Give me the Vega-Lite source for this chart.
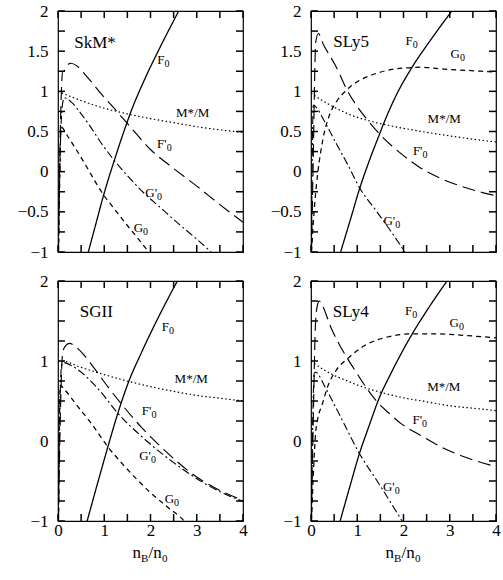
{
"$schema":"https://vega.github.io/schema/vega-lite/v6.json",
"padding":{"left":16,"top":1,"right":5,"bottom":5},
"background":"white",
"config":{
 "view":{"stroke":"black","strokeWidth":1.2},
 "axis":{"grid":false,"domain":false,"ticks":false,"labelColor":"black","labelFont":"Liberation Serif","labelFontSize":17,"labelFlush":false,"labelOverlap":false,"labelBound":false,"format":"~g"},
 "axisX":{"labelPadding":1.5},
 "axisY":{"labelPadding":10},
 "text":{"font":"Liberation Serif","color":"black"},
 "rule":{"color":"#000000","strokeWidth":1.5,"opacity":1}
},
"datasets":{
"xt":[{"v":0},{"v":0.5},{"v":1},{"v":1.5},{"v":2},{"v":2.5},{"v":3},{"v":3.5},{"v":4}],
"yt":[{"v":-1},{"v":-0.75},{"v":-0.5},{"v":-0.25},{"v":0},{"v":0.25},{"v":0.5},{"v":0.75},{"v":1},{"v":1.25},{"v":1.5},{"v":1.75},{"v":2}],
"curves":[
{"panel":"SkM*","series":"F0","x":0.655,"y":-1},{"panel":"SkM*","series":"F0","x":0.8,"y":-0.69},{"panel":"SkM*","series":"F0","x":0.987,"y":-0.29},{"panel":"SkM*","series":"F0","x":1.217,"y":0.14},{"panel":"SkM*","series":"F0","x":1.485,"y":0.6},{"panel":"SkM*","series":"F0","x":1.563,"y":0.725},{"panel":"SkM*","series":"F0","x":1.866,"y":1.14},{"panel":"SkM*","series":"F0","x":2.2,"y":1.54},{"panel":"SkM*","series":"F0","x":2.61,"y":2},
{"panel":"SkM*","series":"Fp0","x":0.01,"y":-1},{"panel":"SkM*","series":"Fp0","x":0.04,"y":0.2},{"panel":"SkM*","series":"Fp0","x":0.08,"y":1.1},{"panel":"SkM*","series":"Fp0","x":0.1,"y":1.25},{"panel":"SkM*","series":"Fp0","x":0.13,"y":1.25},{"panel":"SkM*","series":"Fp0","x":0.18,"y":1.31},{"panel":"SkM*","series":"Fp0","x":0.28,"y":1.35},{"panel":"SkM*","series":"Fp0","x":0.4,"y":1.32},{"panel":"SkM*","series":"Fp0","x":0.6,"y":1.2},{"panel":"SkM*","series":"Fp0","x":0.75,"y":1.1},{"panel":"SkM*","series":"Fp0","x":0.93,"y":0.97},{"panel":"SkM*","series":"Fp0","x":1.15,"y":0.83},{"panel":"SkM*","series":"Fp0","x":1.5,"y":0.6},{"panel":"SkM*","series":"Fp0","x":2.01,"y":0.27},{"panel":"SkM*","series":"Fp0","x":2.5,"y":0.04},{"panel":"SkM*","series":"Fp0","x":3,"y":-0.18},{"panel":"SkM*","series":"Fp0","x":3.5,"y":-0.41},{"panel":"SkM*","series":"Fp0","x":4,"y":-0.63},
{"panel":"SkM*","series":"Gp0","x":0.01,"y":-1},{"panel":"SkM*","series":"Gp0","x":0.05,"y":0.3},{"panel":"SkM*","series":"Gp0","x":0.1,"y":0.85},{"panel":"SkM*","series":"Gp0","x":0.137,"y":0.92},{"panel":"SkM*","series":"Gp0","x":0.3,"y":0.86},{"panel":"SkM*","series":"Gp0","x":0.5,"y":0.72},{"panel":"SkM*","series":"Gp0","x":0.7,"y":0.56},{"panel":"SkM*","series":"Gp0","x":0.93,"y":0.36},{"panel":"SkM*","series":"Gp0","x":1.217,"y":0.14},{"panel":"SkM*","series":"Gp0","x":1.5,"y":-0.05},{"panel":"SkM*","series":"Gp0","x":1.866,"y":-0.27},{"panel":"SkM*","series":"Gp0","x":2.2,"y":-0.44},{"panel":"SkM*","series":"Gp0","x":2.59,"y":-0.64},{"panel":"SkM*","series":"Gp0","x":3,"y":-0.84},{"panel":"SkM*","series":"Gp0","x":3.31,"y":-1},
{"panel":"SkM*","series":"G0","x":0.01,"y":-1},{"panel":"SkM*","series":"G0","x":0.04,"y":0},{"panel":"SkM*","series":"G0","x":0.065,"y":0.56},{"panel":"SkM*","series":"G0","x":0.2,"y":0.45},{"panel":"SkM*","series":"G0","x":0.4,"y":0.27},{"panel":"SkM*","series":"G0","x":0.6,"y":0.08},{"panel":"SkM*","series":"G0","x":0.8,"y":-0.12},{"panel":"SkM*","series":"G0","x":0.987,"y":-0.29},{"panel":"SkM*","series":"G0","x":1.146,"y":-0.41},{"panel":"SkM*","series":"G0","x":1.5,"y":-0.67},{"panel":"SkM*","series":"G0","x":1.9,"y":-0.955},{"panel":"SkM*","series":"G0","x":1.96,"y":-1},
{"panel":"SkM*","series":"M","x":0,"y":1},{"panel":"SkM*","series":"M","x":0.25,"y":0.94},{"panel":"SkM*","series":"M","x":0.5,"y":0.885},{"panel":"SkM*","series":"M","x":1,"y":0.79},{"panel":"SkM*","series":"M","x":1.5,"y":0.72},{"panel":"SkM*","series":"M","x":2,"y":0.66},{"panel":"SkM*","series":"M","x":2.5,"y":0.61},{"panel":"SkM*","series":"M","x":3,"y":0.56},{"panel":"SkM*","series":"M","x":3.5,"y":0.52},{"panel":"SkM*","series":"M","x":4,"y":0.49},

{"panel":"SLy5","series":"F0","x":0.64,"y":-1},{"panel":"SLy5","series":"F0","x":0.85,"y":-0.6},{"panel":"SLy5","series":"F0","x":1.046,"y":-0.22},{"panel":"SLy5","series":"F0","x":1.25,"y":0.12},{"panel":"SLy5","series":"F0","x":1.48,"y":0.465},{"panel":"SLy5","series":"F0","x":1.565,"y":0.59},{"panel":"SLy5","series":"F0","x":1.85,"y":0.96},{"panel":"SLy5","series":"F0","x":2.18,"y":1.295},{"panel":"SLy5","series":"F0","x":2.6,"y":1.65},{"panel":"SLy5","series":"F0","x":3.045,"y":2},
{"panel":"SLy5","series":"Fp0","x":0.01,"y":-1},{"panel":"SLy5","series":"Fp0","x":0.05,"y":0.2},{"panel":"SLy5","series":"Fp0","x":0.08,"y":1.2},{"panel":"SLy5","series":"Fp0","x":0.1,"y":1.6},{"panel":"SLy5","series":"Fp0","x":0.158,"y":1.72},{"panel":"SLy5","series":"Fp0","x":0.27,"y":1.58},{"panel":"SLy5","series":"Fp0","x":0.41,"y":1.44},{"panel":"SLy5","series":"Fp0","x":0.52,"y":1.33},{"panel":"SLy5","series":"Fp0","x":0.63,"y":1.2},{"panel":"SLy5","series":"Fp0","x":0.758,"y":1.04},{"panel":"SLy5","series":"Fp0","x":1,"y":0.81},{"panel":"SLy5","series":"Fp0","x":1.24,"y":0.63},{"panel":"SLy5","series":"Fp0","x":1.48,"y":0.47},{"panel":"SLy5","series":"Fp0","x":1.75,"y":0.32},{"panel":"SLy5","series":"Fp0","x":2,"y":0.2},{"panel":"SLy5","series":"Fp0","x":2.36,"y":0.05},{"panel":"SLy5","series":"Fp0","x":2.79,"y":-0.08},{"panel":"SLy5","series":"Fp0","x":3.4,"y":-0.21},{"panel":"SLy5","series":"Fp0","x":4,"y":-0.3},
{"panel":"SLy5","series":"Gp0","x":0.01,"y":-1},{"panel":"SLy5","series":"Gp0","x":0.03,"y":0.3},{"panel":"SLy5","series":"Gp0","x":0.05,"y":0.83},{"panel":"SLy5","series":"Gp0","x":0.1,"y":0.81},{"panel":"SLy5","series":"Gp0","x":0.27,"y":0.65},{"panel":"SLy5","series":"Gp0","x":0.5,"y":0.4},{"panel":"SLy5","series":"Gp0","x":0.81,"y":0.07},{"panel":"SLy5","series":"Gp0","x":1.05,"y":-0.2},{"panel":"SLy5","series":"Gp0","x":1.4,"y":-0.48},{"panel":"SLy5","series":"Gp0","x":1.7,"y":-0.72},{"panel":"SLy5","series":"Gp0","x":2.03,"y":-1},
{"panel":"SLy5","series":"G0","x":0.01,"y":-1},{"panel":"SLy5","series":"G0","x":0.08,"y":-0.4},{"panel":"SLy5","series":"G0","x":0.15,"y":0},{"panel":"SLy5","series":"G0","x":0.25,"y":0.38},{"panel":"SLy5","series":"G0","x":0.41,"y":0.72},{"panel":"SLy5","series":"G0","x":0.55,"y":0.87},{"panel":"SLy5","series":"G0","x":0.758,"y":1.01},{"panel":"SLy5","series":"G0","x":1,"y":1.12},{"panel":"SLy5","series":"G0","x":1.3,"y":1.2},{"panel":"SLy5","series":"G0","x":1.64,"y":1.26},{"panel":"SLy5","series":"G0","x":2,"y":1.29},{"panel":"SLy5","series":"G0","x":2.4,"y":1.3},{"panel":"SLy5","series":"G0","x":2.79,"y":1.28},{"panel":"SLy5","series":"G0","x":3.4,"y":1.26},{"panel":"SLy5","series":"G0","x":4,"y":1.24},
{"panel":"SLy5","series":"M","x":0,"y":0.98},{"panel":"SLy5","series":"M","x":0.2,"y":0.9},{"panel":"SLy5","series":"M","x":0.41,"y":0.83},{"panel":"SLy5","series":"M","x":0.8,"y":0.72},{"panel":"SLy5","series":"M","x":1.24,"y":0.635},{"panel":"SLy5","series":"M","x":1.565,"y":0.59},{"panel":"SLy5","series":"M","x":2,"y":0.54},{"panel":"SLy5","series":"M","x":2.5,"y":0.49},{"panel":"SLy5","series":"M","x":3,"y":0.445},{"panel":"SLy5","series":"M","x":3.5,"y":0.405},{"panel":"SLy5","series":"M","x":4,"y":0.37},

{"panel":"SGII","series":"F0","x":0.63,"y":-1},{"panel":"SGII","series":"F0","x":0.85,"y":-0.54},{"panel":"SGII","series":"F0","x":1.075,"y":-0.08},{"panel":"SGII","series":"F0","x":1.29,"y":0.34},{"panel":"SGII","series":"F0","x":1.527,"y":0.74},{"panel":"SGII","series":"F0","x":1.8,"y":1.1},{"panel":"SGII","series":"F0","x":2.2,"y":1.58},{"panel":"SGII","series":"F0","x":2.58,"y":2},
{"panel":"SGII","series":"Fp0","x":0.01,"y":-1},{"panel":"SGII","series":"Fp0","x":0.05,"y":0.3},{"panel":"SGII","series":"Fp0","x":0.1,"y":1.1},{"panel":"SGII","series":"Fp0","x":0.15,"y":1.18},{"panel":"SGII","series":"Fp0","x":0.25,"y":1.22},{"panel":"SGII","series":"Fp0","x":0.4,"y":1.17},{"panel":"SGII","series":"Fp0","x":0.54,"y":1.09},{"panel":"SGII","series":"Fp0","x":0.79,"y":0.905},{"panel":"SGII","series":"Fp0","x":1.075,"y":0.68},{"panel":"SGII","series":"Fp0","x":1.376,"y":0.46},{"panel":"SGII","series":"Fp0","x":1.79,"y":0.18},{"panel":"SGII","series":"Fp0","x":2.29,"y":-0.107},{"panel":"SGII","series":"Fp0","x":2.87,"y":-0.397},{"panel":"SGII","series":"Fp0","x":3.44,"y":-0.6},{"panel":"SGII","series":"Fp0","x":4,"y":-0.74},
{"panel":"SGII","series":"Gp0","x":0.01,"y":-1},{"panel":"SGII","series":"Gp0","x":0.04,"y":0.4},{"panel":"SGII","series":"Gp0","x":0.08,"y":0.95},{"panel":"SGII","series":"Gp0","x":0.12,"y":0.98},{"panel":"SGII","series":"Gp0","x":0.3,"y":0.94},{"panel":"SGII","series":"Gp0","x":0.6,"y":0.81},{"panel":"SGII","series":"Gp0","x":0.93,"y":0.61},{"panel":"SGII","series":"Gp0","x":1.29,"y":0.35},{"panel":"SGII","series":"Gp0","x":1.86,"y":0.03},{"panel":"SGII","series":"Gp0","x":2.5,"y":-0.27},{"panel":"SGII","series":"Gp0","x":3.2,"y":-0.54},{"panel":"SGII","series":"Gp0","x":3.6,"y":-0.66},{"panel":"SGII","series":"Gp0","x":4,"y":-0.755},
{"panel":"SGII","series":"G0","x":0.01,"y":-1},{"panel":"SGII","series":"G0","x":0.03,"y":0.2},{"panel":"SGII","series":"G0","x":0.05,"y":0.7},{"panel":"SGII","series":"G0","x":0.1,"y":0.67},{"panel":"SGII","series":"G0","x":0.43,"y":0.43},{"panel":"SGII","series":"G0","x":0.72,"y":0.22},{"panel":"SGII","series":"G0","x":1.075,"y":-0.07},{"panel":"SGII","series":"G0","x":1.43,"y":-0.31},{"panel":"SGII","series":"G0","x":2,"y":-0.645},{"panel":"SGII","series":"G0","x":2.4,"y":-0.84},{"panel":"SGII","series":"G0","x":2.65,"y":-0.955},{"panel":"SGII","series":"G0","x":2.73,"y":-1},
{"panel":"SGII","series":"M","x":0,"y":1},{"panel":"SGII","series":"M","x":0.07,"y":1},{"panel":"SGII","series":"M","x":0.5,"y":0.92},{"panel":"SGII","series":"M","x":1,"y":0.83},{"panel":"SGII","series":"M","x":1.527,"y":0.745},{"panel":"SGII","series":"M","x":2,"y":0.68},{"panel":"SGII","series":"M","x":2.5,"y":0.62},{"panel":"SGII","series":"M","x":3,"y":0.57},{"panel":"SGII","series":"M","x":3.5,"y":0.535},{"panel":"SGII","series":"M","x":4,"y":0.5},

{"panel":"SLy4","series":"F0","x":0.63,"y":-1},{"panel":"SLy4","series":"F0","x":0.85,"y":-0.55},{"panel":"SLy4","series":"F0","x":1.04,"y":-0.17},{"panel":"SLy4","series":"F0","x":1.25,"y":0.18},{"panel":"SLy4","series":"F0","x":1.47,"y":0.53},{"panel":"SLy4","series":"F0","x":1.75,"y":0.87},{"panel":"SLy4","series":"F0","x":2.19,"y":1.34},{"panel":"SLy4","series":"F0","x":2.55,"y":1.67},{"panel":"SLy4","series":"F0","x":2.94,"y":2},
{"panel":"SLy4","series":"Fp0","x":0.01,"y":-1},{"panel":"SLy4","series":"Fp0","x":0.05,"y":0.3},{"panel":"SLy4","series":"Fp0","x":0.1,"y":1.5},{"panel":"SLy4","series":"Fp0","x":0.14,"y":1.7},{"panel":"SLy4","series":"Fp0","x":0.18,"y":1.75},{"panel":"SLy4","series":"Fp0","x":0.25,"y":1.69},{"panel":"SLy4","series":"Fp0","x":0.43,"y":1.42},{"panel":"SLy4","series":"Fp0","x":0.6,"y":1.22},{"panel":"SLy4","series":"Fp0","x":0.79,"y":1.03},{"panel":"SLy4","series":"Fp0","x":1,"y":0.84},{"panel":"SLy4","series":"Fp0","x":1.18,"y":0.68},{"panel":"SLy4","series":"Fp0","x":1.43,"y":0.49},{"panel":"SLy4","series":"Fp0","x":1.7,"y":0.34},{"panel":"SLy4","series":"Fp0","x":1.94,"y":0.22},{"panel":"SLy4","series":"Fp0","x":2.37,"y":0.07},{"panel":"SLy4","series":"Fp0","x":2.87,"y":-0.09},{"panel":"SLy4","series":"Fp0","x":3.37,"y":-0.21},{"panel":"SLy4","series":"Fp0","x":4,"y":-0.32},
{"panel":"SLy4","series":"Gp0","x":0.01,"y":-1},{"panel":"SLy4","series":"Gp0","x":0.04,"y":0.3},{"panel":"SLy4","series":"Gp0","x":0.07,"y":0.85},{"panel":"SLy4","series":"Gp0","x":0.1,"y":0.86},{"panel":"SLy4","series":"Gp0","x":0.3,"y":0.68},{"panel":"SLy4","series":"Gp0","x":0.5,"y":0.46},{"panel":"SLy4","series":"Gp0","x":0.72,"y":0.21},{"panel":"SLy4","series":"Gp0","x":1.04,"y":-0.15},{"panel":"SLy4","series":"Gp0","x":1.43,"y":-0.5},{"panel":"SLy4","series":"Gp0","x":1.97,"y":-1},
{"panel":"SLy4","series":"G0","x":0.01,"y":-1},{"panel":"SLy4","series":"G0","x":0.06,"y":-0.3},{"panel":"SLy4","series":"G0","x":0.1,"y":0.1},{"panel":"SLy4","series":"G0","x":0.14,"y":0.26},{"panel":"SLy4","series":"G0","x":0.25,"y":0.47},{"panel":"SLy4","series":"G0","x":0.36,"y":0.68},{"panel":"SLy4","series":"G0","x":0.54,"y":0.88},{"panel":"SLy4","series":"G0","x":0.79,"y":1.03},{"panel":"SLy4","series":"G0","x":1.15,"y":1.19},{"panel":"SLy4","series":"G0","x":1.65,"y":1.3},{"panel":"SLy4","series":"G0","x":2.19,"y":1.34},{"panel":"SLy4","series":"G0","x":2.72,"y":1.34},{"panel":"SLy4","series":"G0","x":3.3,"y":1.32},{"panel":"SLy4","series":"G0","x":4,"y":1.29},
{"panel":"SLy4","series":"M","x":0,"y":1},{"panel":"SLy4","series":"M","x":0.25,"y":0.9},{"panel":"SLy4","series":"M","x":0.5,"y":0.82},{"panel":"SLy4","series":"M","x":0.75,"y":0.76},{"panel":"SLy4","series":"M","x":1,"y":0.7},{"panel":"SLy4","series":"M","x":1.5,"y":0.61},{"panel":"SLy4","series":"M","x":2,"y":0.54},{"panel":"SLy4","series":"M","x":2.5,"y":0.49},{"panel":"SLy4","series":"M","x":3,"y":0.44},{"panel":"SLy4","series":"M","x":3.5,"y":0.41},{"panel":"SLy4","series":"M","x":4,"y":0.38}
],
"labels":[
{"panel":"SkM*","main":"F","sub":"0","x":2.3,"y":1.39},{"panel":"SkM*","main":"M*/M","sub":"","x":3.27,"y":0.73},{"panel":"SkM*","main":"F'","sub":"0","x":2.35,"y":0.34},{"panel":"SkM*","main":"G'","sub":"0","x":2.14,"y":-0.26},{"panel":"SkM*","main":"G","sub":"0","x":1.84,"y":-0.7},
{"panel":"SLy5","main":"F","sub":"0","x":2.2,"y":1.63},{"panel":"SLy5","main":"G","sub":"0","x":3.22,"y":1.46},{"panel":"SLy5","main":"M*/M","sub":"","x":3.24,"y":0.65},{"panel":"SLy5","main":"F'","sub":"0","x":2.41,"y":0.26},{"panel":"SLy5","main":"G'","sub":"0","x":1.82,"y":-0.61},
{"panel":"SGII","main":"F","sub":"0","x":2.4,"y":1.42},{"panel":"SGII","main":"M*/M","sub":"","x":3.24,"y":0.78},{"panel":"SGII","main":"F'","sub":"0","x":2.02,"y":0.37},{"panel":"SGII","main":"G'","sub":"0","x":2.01,"y":-0.19},{"panel":"SGII","main":"G","sub":"0","x":2.51,"y":-0.73},
{"panel":"SLy4","main":"F","sub":"0","x":2.19,"y":1.63},{"panel":"SLy4","main":"G","sub":"0","x":3.2,"y":1.48},{"panel":"SLy4","main":"M*/M","sub":"","x":3.23,"y":0.68},{"panel":"SLy4","main":"F'","sub":"0","x":2.4,"y":0.26},{"panel":"SLy4","main":"G'","sub":"0","x":1.81,"y":-0.58}
]
},
"columns":2,
"spacing":{"row":10,"column":21},
"concat":[
{"width":185,"height":241,
 "layer":[
  {"data":{"name":"curves"},"transform":[{"filter":"datum.panel==='SkM*'"}],
   "mark":{"type":"line","clip":true,"interpolate":"monotone","color":"black"},
   "encoding":{
    "x":{"field":"x","type":"quantitative","scale":{"domain":[0,4],"nice":false,"zero":false},"axis":{"title":null,"values":[0,0.5,1,1.5,2,2.5,3,3.5,4],"labels":false}},
    "y":{"field":"y","type":"quantitative","scale":{"domain":[-1,2],"nice":false,"zero":false},"axis":{"title":null,"values":[-1,-0.75,-0.5,-0.25,0,0.25,0.5,0.75,1,1.25,1.5,1.75,2],"labelExpr":"datum.value % 0.5 === 0 ? datum.label : ''"}},
    "detail":{"field":"series"},
    "strokeDash":{"field":"series","type":"nominal","scale":{"domain":["F0","G0","M","Fp0","Gp0"],"range":[[1,0],[5,4],[1.5,2.5],[13,6],[8,3,2,3]]},"legend":null},
    "strokeWidth":{"field":"series","type":"nominal","scale":{"domain":["F0","G0","M","Fp0","Gp0"],"range":[1.3,1.1,1.2,1.1,1.1]},"legend":null}
   }},
  {"data":{"name":"xt"},"mark":{"type":"rule","strokeWidth":1.5,"color":"#000000"},"encoding":{"x":{"field":"v","type":"quantitative"},"y":{"datum":-1,"type":"quantitative"},"y2":{"datum":-0.913}}},
  {"data":{"name":"xt"},"mark":{"type":"rule","strokeWidth":1.5,"color":"#000000"},"encoding":{"x":{"field":"v","type":"quantitative"},"y":{"datum":2,"type":"quantitative"},"y2":{"datum":1.913}}},
  {"data":{"name":"yt"},"mark":{"type":"rule","strokeWidth":1.5,"color":"#000000"},"encoding":{"y":{"field":"v","type":"quantitative"},"x":{"datum":0,"type":"quantitative"},"x2":{"datum":0.151}}},
  {"data":{"name":"yt"},"mark":{"type":"rule","strokeWidth":1.5,"color":"#000000"},"encoding":{"y":{"field":"v","type":"quantitative"},"x":{"datum":4,"type":"quantitative"},"x2":{"datum":3.849}}},
  {"data":{"name":"labels"},"transform":[{"filter":"datum.panel==='SkM*'"}],
   "mark":{"type":"text","fontSize":13,"align":"right","baseline":"middle"},
   "encoding":{"x":{"field":"x","type":"quantitative"},"y":{"field":"y","type":"quantitative"},"text":{"field":"main"}}},
  {"data":{"name":"labels"},"transform":[{"filter":"datum.panel==='SkM*'"}],
   "mark":{"type":"text","fontSize":10,"align":"left","baseline":"middle","dy":4},
   "encoding":{"x":{"field":"x","type":"quantitative"},"y":{"field":"y","type":"quantitative"},"text":{"field":"sub"}}},
  {"data":{"values":[{}]},"mark":{"type":"text","text":"SkM*","fontSize":17,"align":"left","baseline":"middle"},
   "encoding":{"x":{"datum":0.35,"type":"quantitative"},"y":{"datum":1.6,"type":"quantitative"}}}
 ]
},
{"width":185,"height":241,
 "layer":[
  {"data":{"name":"curves"},"transform":[{"filter":"datum.panel==='SLy5'"}],
   "mark":{"type":"line","clip":true,"interpolate":"monotone","color":"black"},
   "encoding":{
    "x":{"field":"x","type":"quantitative","scale":{"domain":[0,4],"nice":false,"zero":false},"axis":{"title":null,"values":[0,0.5,1,1.5,2,2.5,3,3.5,4],"labels":false}},
    "y":{"field":"y","type":"quantitative","scale":{"domain":[-1,2],"nice":false,"zero":false},"axis":{"title":null,"values":[-1,-0.75,-0.5,-0.25,0,0.25,0.5,0.75,1,1.25,1.5,1.75,2],"labelExpr":"datum.value % 0.5 === 0 ? datum.label : ''"}},
    "detail":{"field":"series"},
    "strokeDash":{"field":"series","type":"nominal","scale":{"domain":["F0","G0","M","Fp0","Gp0"],"range":[[1,0],[5,4],[1.5,2.5],[13,6],[8,3,2,3]]},"legend":null},
    "strokeWidth":{"field":"series","type":"nominal","scale":{"domain":["F0","G0","M","Fp0","Gp0"],"range":[1.3,1.1,1.2,1.1,1.1]},"legend":null}
   }},
  {"data":{"name":"xt"},"mark":{"type":"rule","strokeWidth":1.5,"color":"#000000"},"encoding":{"x":{"field":"v","type":"quantitative"},"y":{"datum":-1,"type":"quantitative"},"y2":{"datum":-0.913}}},
  {"data":{"name":"xt"},"mark":{"type":"rule","strokeWidth":1.5,"color":"#000000"},"encoding":{"x":{"field":"v","type":"quantitative"},"y":{"datum":2,"type":"quantitative"},"y2":{"datum":1.913}}},
  {"data":{"name":"yt"},"mark":{"type":"rule","strokeWidth":1.5,"color":"#000000"},"encoding":{"y":{"field":"v","type":"quantitative"},"x":{"datum":0,"type":"quantitative"},"x2":{"datum":0.151}}},
  {"data":{"name":"yt"},"mark":{"type":"rule","strokeWidth":1.5,"color":"#000000"},"encoding":{"y":{"field":"v","type":"quantitative"},"x":{"datum":4,"type":"quantitative"},"x2":{"datum":3.849}}},
  {"data":{"name":"labels"},"transform":[{"filter":"datum.panel==='SLy5'"}],
   "mark":{"type":"text","fontSize":13,"align":"right","baseline":"middle"},
   "encoding":{"x":{"field":"x","type":"quantitative"},"y":{"field":"y","type":"quantitative"},"text":{"field":"main"}}},
  {"data":{"name":"labels"},"transform":[{"filter":"datum.panel==='SLy5'"}],
   "mark":{"type":"text","fontSize":10,"align":"left","baseline":"middle","dy":4},
   "encoding":{"x":{"field":"x","type":"quantitative"},"y":{"field":"y","type":"quantitative"},"text":{"field":"sub"}}},
  {"data":{"values":[{}]},"mark":{"type":"text","text":"SLy5","fontSize":17,"align":"left","baseline":"middle"},
   "encoding":{"x":{"datum":0.48,"type":"quantitative"},"y":{"datum":1.61,"type":"quantitative"}}}
 ]
},
{"width":185,"height":240,
 "layer":[
  {"data":{"name":"curves"},"transform":[{"filter":"datum.panel==='SGII'"}],
   "mark":{"type":"line","clip":true,"interpolate":"monotone","color":"black"},
   "encoding":{
    "x":{"field":"x","type":"quantitative","scale":{"domain":[0,4],"nice":false,"zero":false},"axis":{"title":null,"values":[0,0.5,1,1.5,2,2.5,3,3.5,4],"labelExpr":"datum.value % 1 === 0 ? datum.label : ''"}},
    "y":{"field":"y","type":"quantitative","scale":{"domain":[-1,2],"nice":false,"zero":false},"axis":{"title":null,"values":[-1,-0.75,-0.5,-0.25,0,0.25,0.5,0.75,1,1.25,1.5,1.75,2],"labelExpr":"datum.value % 0.5 === 0 ? datum.label : ''"}},
    "detail":{"field":"series"},
    "strokeDash":{"field":"series","type":"nominal","scale":{"domain":["F0","G0","M","Fp0","Gp0"],"range":[[1,0],[5,4],[1.5,2.5],[13,6],[8,3,2,3]]},"legend":null},
    "strokeWidth":{"field":"series","type":"nominal","scale":{"domain":["F0","G0","M","Fp0","Gp0"],"range":[1.3,1.1,1.2,1.1,1.1]},"legend":null}
   }},
  {"data":{"name":"xt"},"mark":{"type":"rule","strokeWidth":1.5,"color":"#000000"},"encoding":{"x":{"field":"v","type":"quantitative"},"y":{"datum":-1,"type":"quantitative"},"y2":{"datum":-0.913}}},
  {"data":{"name":"xt"},"mark":{"type":"rule","strokeWidth":1.5,"color":"#000000"},"encoding":{"x":{"field":"v","type":"quantitative"},"y":{"datum":2,"type":"quantitative"},"y2":{"datum":1.913}}},
  {"data":{"name":"yt"},"mark":{"type":"rule","strokeWidth":1.5,"color":"#000000"},"encoding":{"y":{"field":"v","type":"quantitative"},"x":{"datum":0,"type":"quantitative"},"x2":{"datum":0.151}}},
  {"data":{"name":"yt"},"mark":{"type":"rule","strokeWidth":1.5,"color":"#000000"},"encoding":{"y":{"field":"v","type":"quantitative"},"x":{"datum":4,"type":"quantitative"},"x2":{"datum":3.849}}},
  {"data":{"name":"labels"},"transform":[{"filter":"datum.panel==='SGII'"}],
   "mark":{"type":"text","fontSize":13,"align":"right","baseline":"middle"},
   "encoding":{"x":{"field":"x","type":"quantitative"},"y":{"field":"y","type":"quantitative"},"text":{"field":"main"}}},
  {"data":{"name":"labels"},"transform":[{"filter":"datum.panel==='SGII'"}],
   "mark":{"type":"text","fontSize":10,"align":"left","baseline":"middle","dy":4},
   "encoding":{"x":{"field":"x","type":"quantitative"},"y":{"field":"y","type":"quantitative"},"text":{"field":"sub"}}},
  {"data":{"values":[{}]},"mark":{"type":"text","text":"SGII","fontSize":17,"align":"left","baseline":"middle"},
   "encoding":{"x":{"datum":0.47,"type":"quantitative"},"y":{"datum":1.61,"type":"quantitative"}}},
  {"data":{"values":[{}]},"mark":{"type":"text","text":"n","fontSize":17,"align":"left","baseline":"alphabetic","dx":-18,"dy":37},
   "encoding":{"x":{"datum":2,"type":"quantitative"},"y":{"datum":-1,"type":"quantitative"}}},
  {"data":{"values":[{}]},"mark":{"type":"text","text":"B","fontSize":11,"align":"left","baseline":"alphabetic","dx":-9.5,"dy":41},
   "encoding":{"x":{"datum":2,"type":"quantitative"},"y":{"datum":-1,"type":"quantitative"}}},
  {"data":{"values":[{}]},"mark":{"type":"text","text":"/n","fontSize":17,"align":"left","baseline":"alphabetic","dx":-2,"dy":37},
   "encoding":{"x":{"datum":2,"type":"quantitative"},"y":{"datum":-1,"type":"quantitative"}}},
  {"data":{"values":[{}]},"mark":{"type":"text","text":"0","fontSize":11,"align":"left","baseline":"alphabetic","dx":11.5,"dy":41},
   "encoding":{"x":{"datum":2,"type":"quantitative"},"y":{"datum":-1,"type":"quantitative"}}}
 ]
},
{"width":185,"height":240,
 "layer":[
  {"data":{"name":"curves"},"transform":[{"filter":"datum.panel==='SLy4'"}],
   "mark":{"type":"line","clip":true,"interpolate":"monotone","color":"black"},
   "encoding":{
    "x":{"field":"x","type":"quantitative","scale":{"domain":[0,4],"nice":false,"zero":false},"axis":{"title":null,"values":[0,0.5,1,1.5,2,2.5,3,3.5,4],"labelExpr":"datum.value % 1 === 0 ? datum.label : ''"}},
    "y":{"field":"y","type":"quantitative","scale":{"domain":[-1,2],"nice":false,"zero":false},"axis":{"title":null,"values":[-1,-0.75,-0.5,-0.25,0,0.25,0.5,0.75,1,1.25,1.5,1.75,2],"labelExpr":"datum.value % 0.5 === 0 ? datum.label : ''"}},
    "detail":{"field":"series"},
    "strokeDash":{"field":"series","type":"nominal","scale":{"domain":["F0","G0","M","Fp0","Gp0"],"range":[[1,0],[5,4],[1.5,2.5],[13,6],[8,3,2,3]]},"legend":null},
    "strokeWidth":{"field":"series","type":"nominal","scale":{"domain":["F0","G0","M","Fp0","Gp0"],"range":[1.3,1.1,1.2,1.1,1.1]},"legend":null}
   }},
  {"data":{"name":"xt"},"mark":{"type":"rule","strokeWidth":1.5,"color":"#000000"},"encoding":{"x":{"field":"v","type":"quantitative"},"y":{"datum":-1,"type":"quantitative"},"y2":{"datum":-0.913}}},
  {"data":{"name":"xt"},"mark":{"type":"rule","strokeWidth":1.5,"color":"#000000"},"encoding":{"x":{"field":"v","type":"quantitative"},"y":{"datum":2,"type":"quantitative"},"y2":{"datum":1.913}}},
  {"data":{"name":"yt"},"mark":{"type":"rule","strokeWidth":1.5,"color":"#000000"},"encoding":{"y":{"field":"v","type":"quantitative"},"x":{"datum":0,"type":"quantitative"},"x2":{"datum":0.151}}},
  {"data":{"name":"yt"},"mark":{"type":"rule","strokeWidth":1.5,"color":"#000000"},"encoding":{"y":{"field":"v","type":"quantitative"},"x":{"datum":4,"type":"quantitative"},"x2":{"datum":3.849}}},
  {"data":{"name":"labels"},"transform":[{"filter":"datum.panel==='SLy4'"}],
   "mark":{"type":"text","fontSize":13,"align":"right","baseline":"middle"},
   "encoding":{"x":{"field":"x","type":"quantitative"},"y":{"field":"y","type":"quantitative"},"text":{"field":"main"}}},
  {"data":{"name":"labels"},"transform":[{"filter":"datum.panel==='SLy4'"}],
   "mark":{"type":"text","fontSize":10,"align":"left","baseline":"middle","dy":4},
   "encoding":{"x":{"field":"x","type":"quantitative"},"y":{"field":"y","type":"quantitative"},"text":{"field":"sub"}}},
  {"data":{"values":[{}]},"mark":{"type":"text","text":"SLy4","fontSize":17,"align":"left","baseline":"middle"},
   "encoding":{"x":{"datum":0.47,"type":"quantitative"},"y":{"datum":1.61,"type":"quantitative"}}},
  {"data":{"values":[{}]},"mark":{"type":"text","text":"n","fontSize":17,"align":"left","baseline":"alphabetic","dx":-18,"dy":37},
   "encoding":{"x":{"datum":2,"type":"quantitative"},"y":{"datum":-1,"type":"quantitative"}}},
  {"data":{"values":[{}]},"mark":{"type":"text","text":"B","fontSize":11,"align":"left","baseline":"alphabetic","dx":-9.5,"dy":41},
   "encoding":{"x":{"datum":2,"type":"quantitative"},"y":{"datum":-1,"type":"quantitative"}}},
  {"data":{"values":[{}]},"mark":{"type":"text","text":"/n","fontSize":17,"align":"left","baseline":"alphabetic","dx":-2,"dy":37},
   "encoding":{"x":{"datum":2,"type":"quantitative"},"y":{"datum":-1,"type":"quantitative"}}},
  {"data":{"values":[{}]},"mark":{"type":"text","text":"0","fontSize":11,"align":"left","baseline":"alphabetic","dx":11.5,"dy":41},
   "encoding":{"x":{"datum":2,"type":"quantitative"},"y":{"datum":-1,"type":"quantitative"}}}
 ]
}
]
}
